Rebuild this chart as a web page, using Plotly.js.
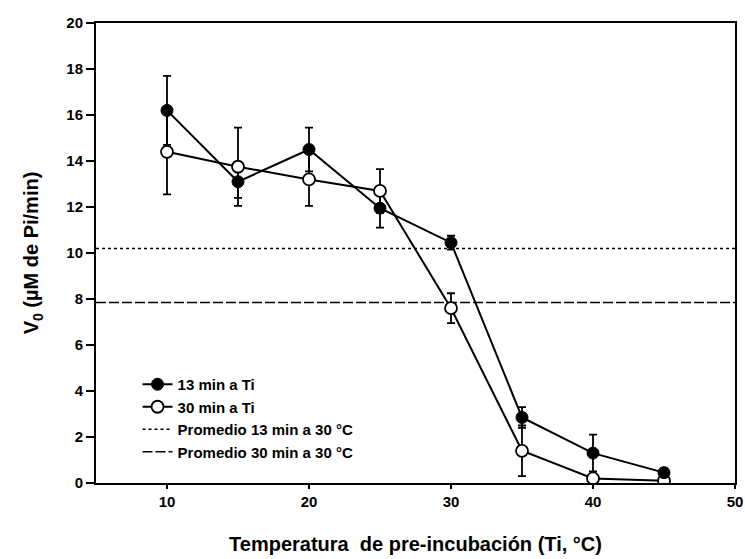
<!DOCTYPE html>
<html>
<head>
<meta charset="utf-8">
<script src="https://cdn.plot.ly/plotly-3.0.1.min.js"></script>
<style>html,body{margin:0;padding:0;background:#fff;}#chart{width:745px;height:559px;}</style>
</head>
<body>
<div id="chart"></div>
<script>
const temps = [10, 15, 20, 25, 30, 35, 40, 45];
const v13 = [16.2, 13.1, 14.5, 11.95, 10.45, 2.85, 1.3, 0.45];
const err13 = [1.5, 0.7, 0.95, 0.85, 0.3, 0.45, 0.8, 0.2];
const v30 = [14.4, 13.75, 13.2, 12.7, 7.6, 1.4, 0.2, 0.1];
const err30 = [1.85, 1.7, 1.15, 0.95, 0.65, 1.1, 0.1, 0.05];
const avg13 = 10.2;
const avg30 = 7.85;
const xRange = [5, 50];
const yTicks = [0, 2, 4, 6, 8, 10, 12, 14, 16, 18, 20];
const xTicks = [10, 20, 30, 40, 50];
const names = ['13 min a Ti', '30 min a Ti', 'Promedio 13 min a 30 °C', 'Promedio 30 min a 30 °C'];

const F = 'Liberation Sans, Arial, sans-serif';
const errStyle = {color: '#000', thickness: 1.8, width: 4};
const traces = [
  // error bars first, so markers cover them
  {
    x: temps, y: v13, mode: 'markers', showlegend: false, hoverinfo: 'skip',
    marker: {size: 1, color: 'rgba(0,0,0,0)'},
    error_y: Object.assign({type: 'data', array: err13, visible: true}, errStyle)
  },
  {
    x: temps, y: v30, mode: 'markers', showlegend: false, hoverinfo: 'skip',
    marker: {size: 1, color: 'rgba(0,0,0,0)'},
    error_y: Object.assign({type: 'data', array: err30, visible: true}, errStyle)
  },
  {
    x: xRange, y: [avg30, avg30], mode: 'lines', name: names[3],
    line: {color: '#000', width: 1.5, dash: '10px,3px'}
  },
  {
    x: xRange, y: [avg13, avg13], mode: 'lines', name: names[2],
    line: {color: '#000', width: 1.5, dash: 'dot'}
  },
  {
    x: temps, y: v30, mode: 'lines+markers', name: names[1],
    line: {color: '#000', width: 2},
    marker: {symbol: 'circle', size: 12, color: '#fff', line: {color: '#000', width: 1.8}}
  },
  {
    x: temps, y: v13, mode: 'lines+markers', name: names[0],
    line: {color: '#000', width: 2},
    marker: {symbol: 'circle', size: 12, color: '#000', line: {color: '#000', width: 1}}
  }
];

const layout = {
  width: 745, height: 559,
  margin: {l: 96, r: 10, t: 23, b: 76},
  paper_bgcolor: '#fff', plot_bgcolor: '#fff',
  font: {family: F, color: '#000', size: 13},
  showlegend: true,
  legend: {
    x: 0.065, y: 0.25, xanchor: 'left', yanchor: 'top',
    traceorder: 'reversed',
    bgcolor: 'rgba(255,255,255,0)',
    font: {family: F, size: 15, color: '#000', weight: 'bold'},
    tracegroupgap: 0
  },
  xaxis: {
    range: xRange, tickvals: xTicks, ticktext: xTicks.map(String),
    showline: true, mirror: true, linecolor: '#000', linewidth: 2,
    ticks: 'outside', ticklen: 4, tickwidth: 1.5, tickcolor: '#000',
    showgrid: false, zeroline: false,
    tickfont: {family: F, size: 15, weight: 'bold'},
    title: {text: '<b>Temperatura  de pre-incubación (Ti, °C)</b>', font: {family: F, size: 20}, standoff: 28}
  },
  yaxis: {
    range: [0, 20], tickvals: yTicks, ticktext: yTicks.map(String),
    showline: true, mirror: true, linecolor: '#000', linewidth: 2,
    ticks: 'outside', ticklen: 8, tickwidth: 1.5, tickcolor: '#000',
    showgrid: false, zeroline: false,
    tickfont: {family: F, size: 15, weight: 'bold'},
    title: {text: '<b>V<sub>0</sub> (µM de Pi/min)</b>', font: {family: F, size: 20}, standoff: 22}
  }
};

Plotly.newPlot('chart', traces, layout, {displayModeBar: false, staticPlot: true});
</script>
</body>
</html>
